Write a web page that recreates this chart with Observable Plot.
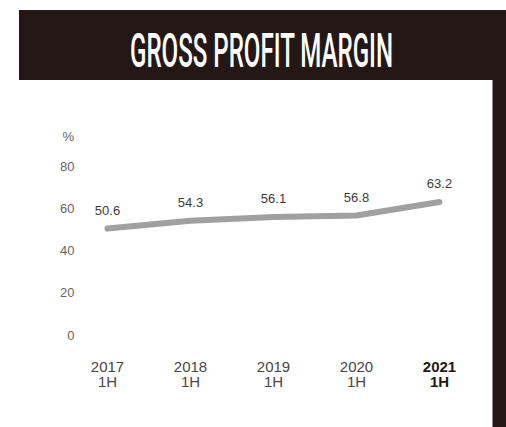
<!DOCTYPE html>
<html><head><meta charset="utf-8">
<script src="https://cdn.jsdelivr.net/npm/d3@7"></script>
<script src="https://cdn.jsdelivr.net/npm/@observablehq/plot@0.6"></script>
<style>
html,body{margin:0;padding:0;background:#fff;}
#root{position:relative;width:506px;height:427px;overflow:hidden;font-family:"Liberation Sans",Arial,sans-serif;}
#header{position:absolute;left:19px;top:10px;width:487px;height:70px;background:#231815;}
#bar{position:absolute;left:492px;top:80px;width:14px;height:347px;background:#231815;border-left:1px solid #8a8a8a;box-sizing:border-box}
#chart{position:absolute;left:0;top:128px;}
</style></head><body>
<div id="root">
<div id="header"><svg width="487" height="70"><text x="111" y="57" font-family="Roboto, Liberation Sans, sans-serif" font-weight="500" font-size="48" fill="#ffffff" textLength="263" lengthAdjust="spacingAndGlyphs">GROSS PROFIT MARGIN</text></svg></div>
<div id="bar"></div>
<div id="chart"></div>
</div>
<script>
const years = ["2017","2018","2019","2020","2021"];
const periods = ["1H","1H","1H","1H","1H"];
const margins = [50.6,54.3,56.1,56.8,63.2];
const yTicks = [0,20,40,60,80];
const data = years.map((y,i)=>({year:y, period:periods[i], value:margins[i]}));
const fmt = d => d + "\n" + periods[years.indexOf(d)];
const chart = Plot.plot({
  width: 506, height: 272,
  marginTop: 38, marginBottom: 65, marginLeft: 107, marginRight: 67,
  x: {type:"point", domain: years, padding: 0, label: null},
  y: {domain:[0,80], label: null},
  style: {fontFamily: "Liberation Sans, Arial, sans-serif", background:"transparent"},
  marks: [
    Plot.axisY({ticks: yTicks, tickSize:0, tickPadding: 33, fontSize: 13, fill:"#666464", label:"%", labelAnchor:"top", labelArrow:"none", labelOffset: 45}),
    Plot.axisX({ticks: years.slice(0,4), tickSize:0, tickPadding:26, fontSize:15, fill:"#4a4646", tickFormat: fmt, label:null}),
    Plot.axisX({ticks: years.slice(4), tickSize:0, tickPadding:26, fontSize:15, fontWeight:"bold", fill:"#231815", tickFormat: fmt, label:null}),
    Plot.line(data, {x:"year", y:"value", stroke:"#a0a0a0", strokeWidth:6, strokeLinecap:"round", strokeLinejoin:"round"}),
    Plot.text(data, {x:"year", y:"value", text: d=>d.value.toFixed(1), dy:-18, fontSize:13, fill:"#3e3a39"})
  ]
});
document.getElementById("chart").appendChild(chart);
</script>
</body></html>
